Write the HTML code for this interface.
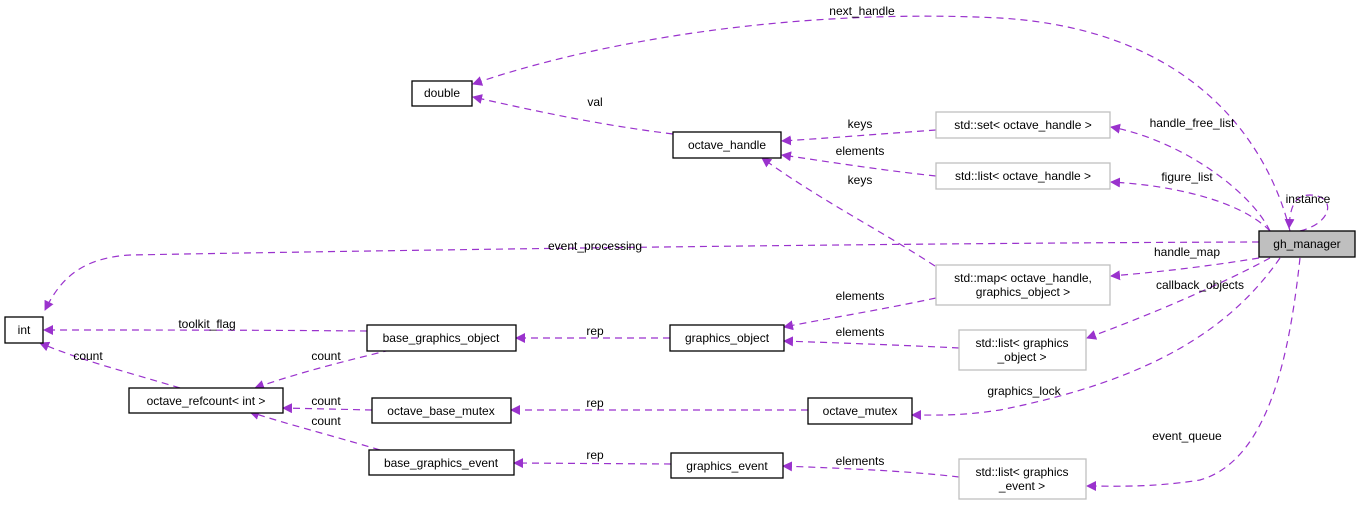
<!DOCTYPE html>
<html><head><meta charset="utf-8"><style>
body{margin:0;background:#fff}
svg text{font-family:"Liberation Sans",sans-serif;font-size:12px;fill:#000}
</style></head><body>
<svg width="1359" height="506" viewBox="0 0 1359 506" xmlns="http://www.w3.org/2000/svg">
<defs><marker id="a" viewBox="0 0 10 10" refX="9" refY="5" markerWidth="10" markerHeight="10" orient="auto" markerUnits="userSpaceOnUse"><path d="M0,0L10,5L0,10z" fill="#9a32cd"/></marker></defs>
<g fill="none" stroke="#9a32cd" stroke-dasharray="7,5" stroke-width="1.2" marker-end="url(#a)">
<path d="M1290,231 C1270,150 1200,30 1000,18 C800,8 600,40 473,84"/>
<path d="M673,134 C600,125 540,112 473,97"/>
<path d="M936,130 C880,134 830,138 782,141"/>
<path d="M936,176 C880,170 830,162 782,155"/>
<path d="M935,266 C880,230 820,200 762,158"/>
<path d="M1270,231 C1250,190 1180,140 1111,127"/>
<path d="M1270,231 C1240,200 1170,185 1111,182"/>
<path d="M1300,231 C1335,222 1335,195 1310,195 C1293,195 1290,210 1289,228"/>
<path d="M1259,242 C900,243 400,250 130,255 C80,258 60,280 45,310"/>
<path d="M1259,258 C1210,266 1160,272 1111,276"/>
<path d="M936,298 C880,310 830,318 784,327"/>
<path d="M1270,258 C1220,285 1150,315 1087,338"/>
<path d="M959,348 C900,345 840,343 784,341"/>
<path d="M1280,258 C1230,330 1150,380 1000,410 C960,416 940,415 912,415"/>
<path d="M1300,258 C1290,350 1270,460 1200,480 C1150,488 1110,486 1087,486"/>
<path d="M808,410 L511,410"/>
<path d="M670,338 L516,338"/>
<path d="M959,477 C900,470 830,468 783,466"/>
<path d="M671,464 L514,463"/>
<path d="M367,331 C250,330 150,330 44,330"/>
<path d="M180,388 C120,370 80,360 40,343"/>
<path d="M372,410 L283,408"/>
<path d="M380,450 C330,435 290,425 250,412"/>
<path d="M390,350 C350,360 300,372 255,388"/>
</g>
<g stroke-width="1.3" fill="#fff">
<rect x="412" y="81" width="60" height="25" stroke="#000"/>
<rect x="673" y="132" width="108" height="26" stroke="#000"/>
<rect x="936" y="112" width="174" height="26" stroke="#bfbfbf"/>
<rect x="936" y="163" width="174" height="26" stroke="#bfbfbf"/>
<rect x="1259" y="231" width="96" height="26" stroke="#000" fill="#bfbfbf"/>
<rect x="5" y="317" width="38" height="26" stroke="#000"/>
<rect x="367" y="325" width="149" height="26" stroke="#000"/>
<rect x="670" y="325" width="114" height="26" stroke="#000"/>
<rect x="936" y="265" width="174" height="40" stroke="#bfbfbf"/>
<rect x="959" y="330" width="127" height="40" stroke="#bfbfbf"/>
<rect x="129" y="388" width="154" height="25" stroke="#000"/>
<rect x="372" y="398" width="139" height="25" stroke="#000"/>
<rect x="808" y="398" width="104" height="26" stroke="#000"/>
<rect x="369" y="450" width="145" height="25" stroke="#000"/>
<rect x="671" y="453" width="112" height="25" stroke="#000"/>
<rect x="959" y="459" width="127" height="40" stroke="#bfbfbf"/>
</g>
<g text-anchor="middle">
<text x="442" y="97">double</text>
<text x="727" y="149">octave_handle</text>
<text x="1023" y="129">std::set&lt; octave_handle &gt;</text>
<text x="1023" y="180">std::list&lt; octave_handle &gt;</text>
<text x="1307" y="248">gh_manager</text>
<text x="24" y="334">int</text>
<text x="441" y="342">base_graphics_object</text>
<text x="727" y="342">graphics_object</text>
<text x="1023" y="282">std::map&lt; octave_handle,</text>
<text x="1023" y="296">graphics_object &gt;</text>
<text x="1022" y="347">std::list&lt; graphics</text>
<text x="1022" y="361">_object &gt;</text>
<text x="206" y="405">octave_refcount&lt; int &gt;</text>
<text x="441" y="415">octave_base_mutex</text>
<text x="860" y="415">octave_mutex</text>
<text x="441" y="467">base_graphics_event</text>
<text x="727" y="470">graphics_event</text>
<text x="1022" y="476">std::list&lt; graphics</text>
<text x="1022" y="490">_event &gt;</text>
<text x="862" y="15">next_handle</text>
<text x="595" y="106">val</text>
<text x="860" y="128">keys</text>
<text x="860" y="155">elements</text>
<text x="860" y="184">keys</text>
<text x="1192" y="127">handle_free_list</text>
<text x="1187" y="181">figure_list</text>
<text x="1308" y="203">instance</text>
<text x="595" y="250">event_processing</text>
<text x="1187" y="256">handle_map</text>
<text x="1200" y="289">callback_objects</text>
<text x="860" y="300">elements</text>
<text x="860" y="336">elements</text>
<text x="1024" y="395">graphics_lock</text>
<text x="1187" y="440">event_queue</text>
<text x="860" y="465">elements</text>
<text x="595" y="335">rep</text>
<text x="595" y="407">rep</text>
<text x="595" y="459">rep</text>
<text x="207" y="328">toolkit_flag</text>
<text x="88" y="360">count</text>
<text x="326" y="360">count</text>
<text x="326" y="405">count</text>
<text x="326" y="425">count</text>
</g>
</svg>
</body></html>
